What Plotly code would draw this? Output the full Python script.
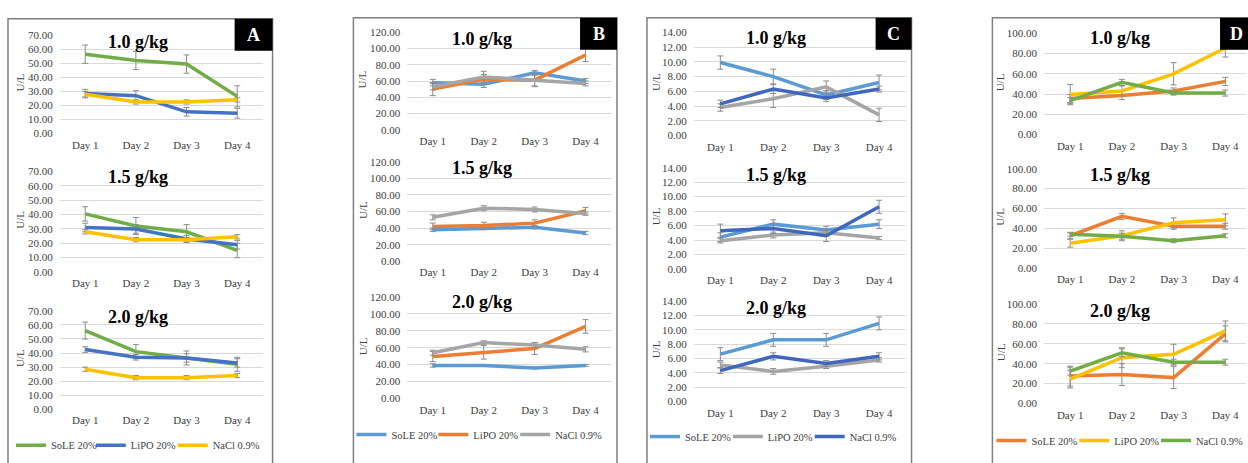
import plotly.graph_objects as go

W, H = 1248, 463

days = ["Day 1", "Day 2", "Day 3", "Day 4"]
doses = ["1.0 g/kg", "1.5 g/kg", "2.0 g/kg"]
series_names = ["SoLE 20%", "LiPO 20%", "NaCl 0.9%"]
panel_letters = ["A", "B", "C", "D"]

# Panel A (rows = 1.0, 1.5, 2.0 g/kg)
A_sole = [[56.5, 52.0, 49.5, 26.5], [40.5, 32.0, 28.0, 15.0], [56.0, 41.0, 36.5, 32.0]]
A_sole_err = [[6.5, 6.5, 6.5, 7.5], [5.0, 6.0, 5.0, 5.0], [6.0, 5.0, 5.0, 5.0]]
A_lipo = [[28.5, 27.0, 15.5, 14.5], [31.0, 30.0, 23.0, 19.0], [42.5, 37.0, 36.5, 33.0]]
A_lipo_err = [[3.0, 3.5, 3.0, 3.5], [3.0, 3.0, 2.5, 3.0], [2.0, 2.0, 3.0, 3.0]]
A_nacl = [[28.0, 22.5, 22.5, 24.0], [28.0, 22.5, 22.5, 24.5], [28.5, 22.5, 22.5, 24.0]]
A_nacl_err = [[2.0, 1.5, 1.5, 1.5], [1.5, 1.5, 1.5, 1.5], [1.5, 1.5, 1.5, 1.5]]

# Panel B
B_sole = [[58, 56, 70, 60], [38, 40, 41, 34], [39, 39, 36, 39]]
B_sole_err = [[4, 4, 3, 3], [2, 2, 2, 2], [2, 1, 1, 1]]
B_lipo = [[50, 62, 61, 92], [42, 43, 46, 61], [49.5, 54.5, 59, 85]]
B_lipo_err = [[8, 6, 8, 8], [4, 4, 4, 4], [6, 8, 7, 8]]
B_nacl = [[53, 65, 61, 57], [53, 64, 62.5, 57.5], [54, 66, 63, 58]]
B_nacl_err = [[4, 7, 7, 3], [3, 3, 3, 2], [3, 2, 3, 3]]

# Panel C
C_sole = [[9.9, 8.0, 5.5, 7.2], [4.4, 6.2, 5.4, 6.2], [6.6, 8.6, 8.6, 10.9]]
C_sole_err = [[0.9, 1.0, 0.6, 1.0], [0.6, 0.6, 0.5, 0.6], [0.9, 0.9, 0.9, 0.9]]
C_lipo = [[3.8, 5.0, 6.6, 2.8], [3.9, 4.7, 5.0, 4.3], [5.1, 4.2, 4.9, 5.8]]
C_lipo_err = [[0.5, 1.2, 0.8, 0.9], [0.3, 0.4, 0.4, 0.2], [0.4, 0.4, 0.3, 0.3]]
C_nacl = [[4.3, 6.3, 5.1, 6.3], [5.3, 5.6, 4.6, 8.6], [4.3, 6.3, 5.3, 6.3]]
C_nacl_err = [[0.5, 0.6, 0.5, 0.4], [0.9, 0.7, 0.8, 0.9], [0.4, 0.5, 0.4, 0.5]]

# Panel D
D_sole = [[35.5, 38.5, 43, 52.5], [32.5, 52, 42, 42], [27.5, 29, 26, 70]]
D_sole_err = [[4, 4, 3, 4], [3, 3, 3, 3], [10, 11, 11, 8]]
D_lipo = [[39.5, 43, 60, 85.5], [25, 32.5, 45.5, 48.5], [24.5, 46, 49.5, 73]]
D_lipo_err = [[10, 5, 11, 9], [4, 5, 5, 6], [9, 10, 10, 10]]
D_nacl = [[33.5, 51.5, 41, 41], [34, 32, 27.5, 32.5], [32.5, 51, 41.5, 41.5]]
D_nacl_err = [[3, 3, 2, 3], [2, 3, 2, 2], [4, 4, 3, 3]]

y_max = [70, 120, 14, 100]
y_dtick = [10, 20, 2, 20]

panel_colors = [
    ["#70AD47", "#4472C4", "#FFC000"],
    ["#5B9BD5", "#ED7D31", "#A5A5A5"],
    ["#5B9BD5", "#A5A5A5", "#3F67BD"],
    ["#ED7D31", "#FFC000", "#70AD47"],
]

panel_data = [
    [(A_sole, A_sole_err), (A_lipo, A_lipo_err), (A_nacl, A_nacl_err)],
    [(B_sole, B_sole_err), (B_lipo, B_lipo_err), (B_nacl, B_nacl_err)],
    [(C_sole, C_sole_err), (C_lipo, C_lipo_err), (C_nacl, C_nacl_err)],
    [(D_sole, D_sole_err), (D_lipo, D_lipo_err), (D_nacl, D_nacl_err)],
]

# ---- layout geometry (pixels) ----
plot_x = [(60, 263, 3.5), (408, 612, 3.5), (695, 907, 3.5), (1046, 1248, 3.4)]
plot_y = [
    [(30, 131), (170, 273), (313, 414)],
    [(27, 127), (160, 262), (298.5, 403)],
    [(27, 133), (166, 270), (303, 406)],
    [(28, 132), (167, 269), (306, 408)],
]
title_x = [138, 483, 777, 1122]
title_y = [[37, 176, 319], [34, 166, 304], [33, 173, 310], [33, 173, 313]]
ul_x = [20, 363, 657, 1002]
border = [(8, 273, 13), (354, 618, 12), (648, 913, 12), (994, 1262, 12)]
letter_box = [(235, 273, 13, 46), (581, 618, 12, 45), (877, 913, 12, 45), (1222, 1254, 12, 45)]
legend_y = [451, 440, 442, 446]
legend_line_x = [[25, 105, 187], [366, 448, 530], [660, 743, 825], [1007, 1090, 1172]]

FONT = "Liberation Serif"
TICK_COLOR = "#404040"


def fx(p):
    return p / W


def fy(p):
    return 1 - p / H


fig = go.Figure()
layout = dict(
    width=W, height=H,
    margin=dict(l=0, r=0, t=0, b=0),
    paper_bgcolor="white", plot_bgcolor="white",
    font=dict(family=FONT, color=TICK_COLOR, size=11),
    showlegend=True,
)
annotations = []
shapes = []

leg_idx = 0
for pi in range(4):
    x0, x1, xr = plot_x[pi]
    bx0, bx1, by0 = border[pi]
    shapes.append(dict(type="rect", xref="paper", yref="paper",
                       x0=fx(bx0), x1=fx(bx1), y0=fy(by0), y1=fy(475),
                       line=dict(color="#7F7F7F", width=1.5), fillcolor="rgba(0,0,0,0)", layer="below"))
    lx0, lx1, ly0, ly1 = letter_box[pi]
    shapes.append(dict(type="rect", xref="paper", yref="paper",
                       x0=fx(lx0), x1=fx(lx1), y0=fy(ly1), y1=fy(ly0),
                       line=dict(width=0), fillcolor="black", layer="above"))
    annotations.append(dict(xref="paper", yref="paper", x=fx((lx0 + lx1) / 2),
                            y=fy((ly0 + ly1) / 2), text="<b>%s</b>" % panel_letters[pi],
                            showarrow=False, font=dict(family=FONT, size=18, color="white"),
                            xanchor="center", yanchor="middle"))
    for si in range(3):
        n = pi * 3 + si + 1
        t, b = plot_y[pi][si]
        sfx = "" if n == 1 else str(n)
        layout["xaxis" + sfx] = dict(
            domain=[fx(x0), fx(x1)], anchor="y" + sfx, type="category",
            categoryorder="array", categoryarray=days,
            range=[-0.5, xr], showgrid=False, zeroline=False, showline=False,
            ticks="outside", ticklen=1, tickcolor="rgba(0,0,0,0)",
            tickfont=dict(family=FONT, size=11, color=TICK_COLOR), fixedrange=True,
        )
        layout["yaxis" + sfx] = dict(
            domain=[fy(b), fy(t)], anchor="x" + sfx,
            range=[0, y_max[pi]], dtick=y_dtick[pi], tick0=0, tickformat=".2f",
            showgrid=True, gridcolor="#D9D9D9", gridwidth=1, zeroline=False, showline=False,
            ticks="outside", ticklen=4, tickcolor="rgba(0,0,0,0)",
            tickfont=dict(family=FONT, size=11, color=TICK_COLOR), fixedrange=True,
        )
        annotations.append(dict(xref="paper", yref="paper", x=fx(title_x[pi]), y=fy(title_y[pi][si]),
                                text="<b>%s</b>" % doses[si], showarrow=False,
                                font=dict(family=FONT, size=18, color="black"),
                                xanchor="center", yanchor="middle"))
        annotations.append(dict(xref="paper", yref="paper", x=fx(ul_x[pi]), y=fy((t + b) / 2 - 2),
                                text="U/L", textangle=-90, showarrow=False,
                                font=dict(family=FONT, size=11, color=TICK_COLOR),
                                xanchor="center", yanchor="middle"))
        for k in range(3):
            vals, errs = panel_data[pi][k]
            show = si == 2
            trace_kwargs = {}
            if show:
                leg_idx += 1
                lname = "legend" if leg_idx == 1 else "legend%d" % leg_idx
                trace_kwargs["legend"] = lname
                layout[lname] = dict(
                    x=fx(legend_line_x[pi][k] - 9 - 5), xanchor="left",
                    y=fy(legend_y[pi]), yanchor="middle",
                    orientation="h", bgcolor="rgba(0,0,0,0)", borderwidth=0,
                    font=dict(family=FONT, size=10.5, color=TICK_COLOR),
                    itemwidth=30, tracegroupgap=0,
                )
            fig.add_trace(go.Scatter(
                x=days, y=vals[si], name=series_names[k], mode="lines",
                line=dict(color=panel_colors[pi][k], width=3.5),
                error_y=dict(type="data", array=errs[si], color="#8C8C8C", thickness=1, width=3),
                xaxis="x" + sfx, yaxis="y" + sfx,
                showlegend=show, hoverinfo="skip", **trace_kwargs,
            ))

layout["annotations"] = annotations
layout["shapes"] = shapes
fig.update_layout(**layout)
fig.write_html("out.html", config={"displayModeBar": False},
               post_script="document.body.style.margin='0';document.body.style.overflow='hidden';")
